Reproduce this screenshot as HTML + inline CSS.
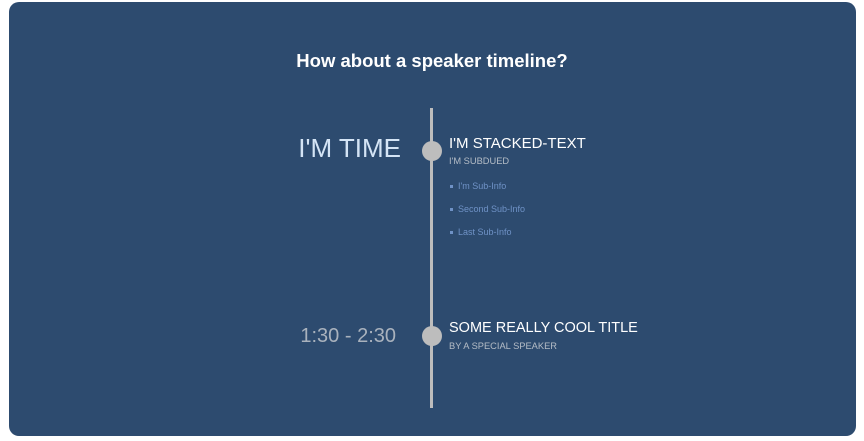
<!DOCTYPE html>
<html><head><meta charset="utf-8"><style>
body{margin:0;width:864px;height:441px;background:#fff;font-family:"Liberation Sans",sans-serif;position:relative;overflow:hidden}
.card{position:absolute;left:9px;top:2px;width:847px;height:434px;background:#2d4b6f;border-radius:10px}
.a{position:absolute;white-space:nowrap;line-height:1}
.line{position:absolute;left:430px;top:108px;width:3px;height:300px;background:#bdbdbd}
.dot{position:absolute;width:20px;height:20px;border-radius:50%;background:#bdbdbd}
.sub{font-size:9px;color:#6f92c6}
.bul{position:absolute;width:3px;height:3px;background:#6f92c6}
</style></head><body>
<div class="card"></div>
<div class="a" style="left:0;width:864px;text-align:center;top:52px;font-size:18.5px;font-weight:bold;color:#fff">How about a speaker timeline?</div>
<div class="line"></div>
<div class="dot" style="left:422px;top:141px"></div>
<div class="dot" style="left:422px;top:326px"></div>
<div class="a" style="right:463px;top:135px;font-size:26px;color:#d4e4f5">I'M TIME</div>
<div class="a" style="right:468px;top:326px;font-size:20px;color:#a9b2bd">1:30 - 2:30</div>
<div class="a" style="left:449px;top:136px;font-size:15px;color:#fff">I'M STACKED-TEXT</div>
<div class="a" style="left:449px;top:157px;font-size:9.3px;color:#b4bcc6">I'M SUBDUED</div>
<div class="bul" style="left:450px;top:185px"></div>
<div class="a sub" style="left:458px;top:182px">I'm Sub-Info</div>
<div class="bul" style="left:450px;top:208px"></div>
<div class="a sub" style="left:458px;top:205px">Second Sub-Info</div>
<div class="bul" style="left:450px;top:231px"></div>
<div class="a sub" style="left:458px;top:228px">Last Sub-Info</div>
<div class="a" style="left:449px;top:321px;font-size:14.5px;color:#fff">SOME REALLY COOL TITLE</div>
<div class="a" style="left:449px;top:342px;font-size:9.3px;color:#b4bcc6">BY A SPECIAL SPEAKER</div>
</body></html>
